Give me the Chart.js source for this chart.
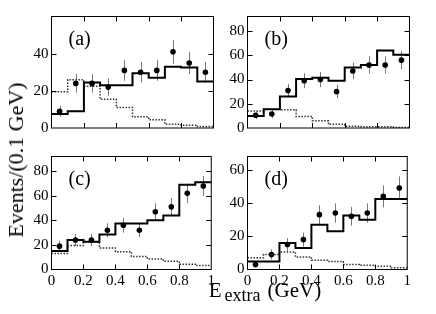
<!DOCTYPE html>
<html>
<head>
<meta charset="utf-8">
<script src="https://cdn.jsdelivr.net/npm/chart.js@4.4.1/dist/chart.umd.min.js"></script>
<style>
    body { margin: 0; background: #fff; }
    #wrap { position: relative; width: 436px; height: 314px; overflow: hidden; font-family: 'Liberation Serif', 'Times New Roman', serif; color: #000; }
    #wrap canvas { position: absolute; }
    .ytitle { position: absolute; left: 16px; top: 160px; transform: translate(-50%, -50%) rotate(-90deg); white-space: nowrap; font-size: 22px; }
    .xtitle { position: absolute; left: 265px; top: 292px; transform: translate(-50%, -50%); white-space: nowrap; font-size: 21px; }
    .xtitle sub { font-size: 18px; vertical-align: -4px; margin-left: 3px; margin-right: 7px; }
</style>
</head>
<body>
<div id="wrap">
    <canvas id="pa" width="218" height="140" style="left:0;top:0"></canvas>
    <canvas id="pb" width="218" height="140" style="left:196px;top:0"></canvas>
    <canvas id="pc" width="218" height="174" style="left:0;top:140px"></canvas>
    <canvas id="pd" width="218" height="174" style="left:196px;top:140px"></canvas>
    <div class="ytitle">Events/(0.1 GeV)</div>
    <div class="xtitle">E<sub>extra</sub>(GeV)</div>
</div>
<script>
// --- DATA ---
const binEdges = [0, 0.1, 0.2, 0.3, 0.4, 0.5, 0.6, 0.7, 0.8, 0.9, 1.0];
const binCenters = [0.05, 0.15, 0.25, 0.35, 0.45, 0.55, 0.65, 0.75, 0.85, 0.95];
const xTicks = [0, 0.2, 0.4, 0.6, 0.8, 1];

// (a)
const fitA = [7.5, 9, 24.5, 23, 23, 29.5, 27, 33, 32.5, 25];
const bkgA = [19.5, 26, 22.5, 15.5, 11, 6, 4.5, 2, 1.5, 0.8];
const dataA = [9, 24, 24, 22, 31, 30, 31, 41, 35, 30];
const errA = [3, 5, 5, 4.7, 5.6, 5.5, 5.6, 6.4, 5.9, 5.5];
const yTicksA = [0, 20, 40, 60];

// (b)
const fitB = [10, 15.5, 26, 40.5, 41.5, 39, 50, 52, 64, 60.5];
const bkgB = [14, 15.5, 15, 9.5, 6, 3, 1.5, 1, 1, 0.5];
const dataB = [10.5, 11.5, 31, 39, 40, 30, 47, 52, 52, 56];
const errB = [3.2, 3.4, 5.6, 6.2, 6.3, 5.5, 6.9, 7.2, 7.2, 7.5];
const yTicksB = [0, 20, 40, 60, 80];

// (c)
const fitC = [15, 24, 22.5, 28.5, 37.5, 37.5, 40, 44, 69, 71];
const bkgC = [13, 19.5, 22.5, 17.5, 14.5, 10.5, 8.5, 6.7, 4.3, 3.2];
const dataC = [19, 24, 24, 32, 36, 32, 47, 51, 62, 68];
const errC = [4.4, 4.9, 4.9, 5.7, 6, 5.7, 6.9, 7.1, 7.9, 8.2];
const yTicksC = [0, 20, 40, 60, 80];

// (d)
const fitD = [4.8, 4.8, 16, 13, 27, 23, 32.5, 30, 42.5, 42.5];
const bkgD = [7, 9, 10.5, 7.5, 5.5, 4.8, 3, 2.5, 2, 1];
const dataD = [3, 9, 15, 18, 33, 34, 32, 34, 44, 49];
const errD = [1.7, 3, 3.9, 4.2, 5.7, 5.8, 5.7, 5.8, 6.6, 7];
const yTicksD = [0, 20, 40, 60];

const FONT = "'Liberation Serif', 'Times New Roman', serif";

// histogram -> step points at the bin edges
const steps = (vals) => binEdges.map((x, i) => ({ x, y: vals[Math.min(i, vals.length - 1)] }));

// frame, inward tick marks and the panel letter
const framePlugin = {
    id: 'frame',
    afterDraw(chart) {
        const { ctx, chartArea: a, scales: { x, y } } = chart;
        const o = chart.options.plugins.frame;
        ctx.save();
        ctx.strokeStyle = '#000';
        ctx.lineWidth = 1;
        ctx.strokeRect(a.left, a.top, a.right - a.left, a.bottom - a.top);
        ctx.beginPath();
        xTicks.slice(1, -1).forEach(v => {
            const px = Math.round(x.getPixelForValue(v)) + 0.5;
            ctx.moveTo(px, a.bottom); ctx.lineTo(px, a.bottom - 5);
            ctx.moveTo(px, a.top); ctx.lineTo(px, a.top + 5);
        });
        o.yTicks.forEach(v => {
            if (v <= 0 || v >= o.yMax) return;
            const py = Math.round(y.getPixelForValue(v)) + 0.5;
            ctx.moveTo(a.left, py); ctx.lineTo(a.left + 5, py);
            ctx.moveTo(a.right, py); ctx.lineTo(a.right - 5, py);
        });
        ctx.stroke();
        ctx.fillStyle = '#000';
        ctx.font = '20px ' + FONT;
        ctx.textBaseline = 'alphabetic';
        ctx.fillText(o.label, a.left + 17, a.top + 28);
        ctx.restore();
    }
};

// vertical error bars on the data points
const errorPlugin = {
    id: 'errbars',
    beforeDatasetsDraw(chart) {
        const { ctx, scales: { x, y } } = chart;
        const ds = chart.data.datasets[2];
        ctx.save();
        ctx.strokeStyle = '#777';
        ctx.lineWidth = 1;
        ctx.beginPath();
        ds.data.forEach((p, i) => {
            const px = Math.round(x.getPixelForValue(p.x)) + 0.5;
            ctx.moveTo(px, y.getPixelForValue(p.y - ds.errors[i]));
            ctx.lineTo(px, y.getPixelForValue(p.y + ds.errors[i]));
        });
        ctx.stroke();
        ctx.restore();
    }
};

const panels = [
    { id: 'pa', label: '(a)', fit: fitA, bkg: bkgA, pts: dataA, err: errA, yTicks: yTicksA, yMax: 60, showX: false, padTop: 16.5, xh: 11.5 },
    { id: 'pb', label: '(b)', fit: fitB, bkg: bkgB, pts: dataB, err: errB, yTicks: yTicksB, yMax: 92, showX: false, padTop: 16.5, xh: 11.5 },
    { id: 'pc', label: '(c)', fit: fitC, bkg: bkgC, pts: dataC, err: errC, yTicks: yTicksC, yMax: 92, showX: true, padTop: 16.5, xh: 44.5 },
    { id: 'pd', label: '(d)', fit: fitD, bkg: bkgD, pts: dataD, err: errD, yTicks: yTicksD, yMax: 68, showX: true, padTop: 16.5, xh: 44.5 }
];

panels.forEach(p => {
    new Chart(document.getElementById(p.id), {
        type: 'line',
        data: {
            datasets: [
                { data: steps(p.fit), stepped: 'before', borderColor: '#000', borderWidth: 2, pointRadius: 0, fill: false },
                { data: steps(p.bkg), stepped: 'before', borderColor: '#333', borderWidth: 1.5, borderDash: [1.5, 1.5], pointRadius: 0, fill: false },
                {
                    type: 'scatter', data: binCenters.map((x, i) => ({ x, y: p.pts[i] })), errors: p.err,
                    pointRadius: 2.8, pointBackgroundColor: '#000', pointBorderColor: '#000', pointBorderWidth: 0, showLine: false
                }
            ]
        },
        options: {
            animation: false, responsive: false, devicePixelRatio: 1,
            layout: { padding: { top: p.padTop, right: 4.5, left: 0, bottom: 0 } },
            plugins: {
                legend: { display: false }, tooltip: { enabled: false },
                frame: { label: p.label, yTicks: p.yTicks, yMax: p.yMax }
            },
            scales: {
                x: {
                    type: 'linear', min: 0, max: 1,
                    grid: { display: false, drawTicks: false }, border: { display: false },
                    afterBuildTicks: s => { s.ticks = xTicks.map(v => ({ value: v })); },
                    ticks: { display: p.showX, color: '#000', font: { family: FONT, size: 15 }, padding: 3, maxRotation: 0, autoSkip: false, callback: v => String(v) },
                    afterFit: s => { s.height = p.xh; }
                },
                y: {
                    type: 'linear', min: 0, max: p.yMax,
                    grid: { display: false, drawTicks: false }, border: { display: false },
                    afterBuildTicks: s => { s.ticks = p.yTicks.map(v => ({ value: v })); },
                    ticks: { color: '#000', font: { family: FONT, size: 15 }, padding: 3, autoSkip: false,
                             callback: v => (v >= p.yMax ? '' : String(v)) },
                    afterFit: s => { s.width = 51.5; }
                }
            }
        },
        plugins: [framePlugin, errorPlugin]
    });
});
</script>
</body>
</html>
